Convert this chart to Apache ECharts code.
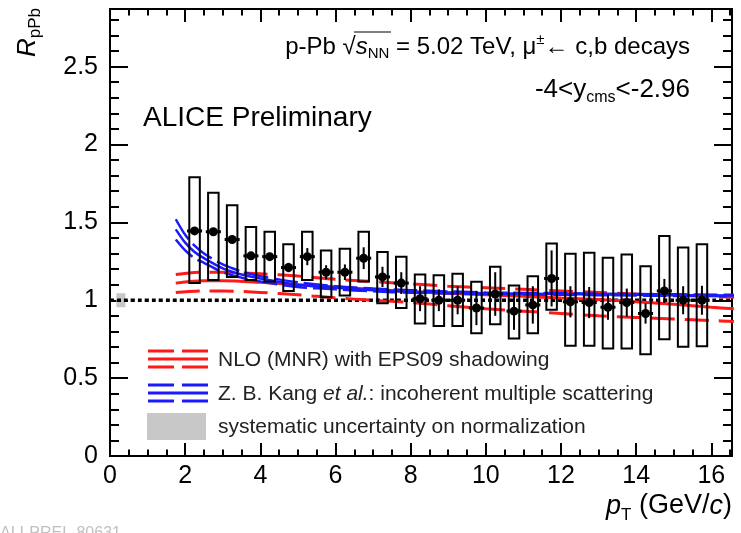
<!DOCTYPE html>
<html>
<head>
<meta charset="utf-8">
<script src="https://cdn.jsdelivr.net/npm/echarts@6/dist/echarts.min.js"></script>
<style>
html,body{margin:0;padding:0;background:#fff;}
#chart{width:741px;height:533px;}
</style>
</head>
<body>
<div id="chart"></div>
<script>
// ---- data ----
const ptX     = [2.25,2.75,3.25,3.75,4.25,4.75,5.25,5.75,6.25,6.75,7.25,7.75,8.25,8.75,9.25,9.75,10.25,10.75,11.25,11.75,12.25,12.75,13.25,13.75,14.25,14.75,15.25,15.75];
const rpPb    = [1.445,1.44,1.39,1.285,1.28,1.21,1.28,1.18,1.18,1.27,1.15,1.11,1.01,1.0,1.0,0.95,1.04,0.93,0.97,1.14,0.99,0.985,0.955,0.985,0.915,1.06,1.0,1.0];
const statErr = [0.02,0.02,0.02,0.025,0.025,0.03,0.055,0.045,0.05,0.07,0.065,0.07,0.08,0.07,0.09,0.11,0.14,0.12,0.12,0.18,0.1,0.1,0.08,0.09,0.065,0.077,0.09,0.093];
const sysHigh = [1.79,1.69,1.61,1.47,1.44,1.36,1.44,1.32,1.33,1.44,1.31,1.28,1.165,1.16,1.17,1.118,1.215,1.094,1.154,1.364,1.299,1.305,1.273,1.294,1.219,1.413,1.338,1.359];
const sysLow  = [1.11,1.13,1.15,1.13,1.12,1.06,1.13,1.02,1.03,1.12,0.98,0.95,0.85,0.835,0.835,0.788,0.846,0.755,0.788,0.939,0.708,0.708,0.69,0.69,0.654,0.75,0.701,0.705];

const nloX    = [1.75,2.5,3,4,5,6,7,8,9,10,11,12,13,14,15,16,16.6];
const nloUp   = [1.165,1.18,1.18,1.17,1.155,1.135,1.12,1.105,1.09,1.08,1.07,1.06,1.05,1.04,1.035,1.025,1.02];
const nloCen  = [1.11,1.125,1.125,1.115,1.10,1.085,1.07,1.055,1.045,1.035,1.025,1.015,1.005,0.99,0.975,0.955,0.945];
const nloLow  = [1.05,1.06,1.06,1.05,1.035,1.015,1.0,0.985,0.965,0.945,0.93,0.915,0.90,0.89,0.88,0.87,0.863];

const kangX   = [1.75,2,2.25,2.5,3,3.5,4,5,6,7,8,10,12,14,16.6];
const kangUp  = [1.52,1.42,1.35,1.30,1.23,1.185,1.155,1.115,1.09,1.075,1.065,1.05,1.045,1.04,1.035];
const kangMid = [1.455,1.37,1.31,1.27,1.205,1.165,1.14,1.10,1.08,1.065,1.055,1.045,1.04,1.035,1.03];
const kangLow = [1.39,1.32,1.27,1.24,1.18,1.145,1.12,1.085,1.07,1.057,1.048,1.04,1.035,1.03,1.025];

const normX   = [0.17, 0.41];
const normY   = [0.955, 1.045];
const unityX  = [0, 16.55];
const unityY  = [1, 1];

const xRange  = [0, 16.55];
const yRange  = [0, 2.87];
const xMajor  = 2, xMinor = 0.5;
const yMajor  = 0.5, yMinor = 0.1;

// ---- chart ----
const FONT = 'Liberation Sans';
const chart = echarts.init(document.getElementById('chart'), null, {renderer:'canvas'});

function xAx(pos, interval, len, labels){
  return {type:'value', position:pos, min:xRange[0], max:xRange[1], interval:interval,
    axisLine:{show:false, onZero:false}, splitLine:{show:false},
    axisTick:{show:true, inside:true, length:len, lineStyle:{color:'#000', width:2}},
    axisLabel: labels ? {show:true, fontFamily:FONT, fontSize:25, color:'#000', margin:8,
      formatter:v => (Math.abs(v/xMajor - Math.round(v/xMajor))<1e-6 ? String(Math.round(v)) : '')} : {show:false}};
}
function yAx(pos, interval, len, labels){
  return {type:'value', position:pos, min:yRange[0], max:yRange[1], interval:interval,
    axisLine:{show:false, onZero:false}, splitLine:{show:false},
    axisTick:{show:true, inside:true, length:len, lineStyle:{color:'#000', width:2}},
    axisLabel: labels ? {show:true, fontFamily:FONT, fontSize:25, color:'#000', margin:12,
      formatter:v => (Math.abs(v/yMajor - Math.round(v/yMajor))<1e-6 ? String(+v.toFixed(1)) : '')} : {show:false}};
}

const lineSeries = (xs, ys, color, width, dash, z) => ({
  type:'line', xAxisIndex:0, yAxisIndex:0, data: xs.map((x,i)=>[x, ys[i]]),
  smooth:0.3, showSymbol:false, symbol:'none', silent:true, z:z,
  lineStyle:{color:color, width:width, type:dash}
});

const boxHalf = 0.14, barHalf = 0.2;

const option = {
  animation:false,
  backgroundColor:'#fff',
  grid:{left:110, right:9, top:9, bottom:77, show:true, borderColor:'#000', borderWidth:2, backgroundColor:'transparent'},
  xAxis:[ xAx('bottom', xMajor, 13, true), xAx('bottom', xMinor, 6.5, false), xAx('top', xMajor, 13, false), xAx('top', xMinor, 6.5, false) ],
  yAxis:[ yAx('left', yMajor, 18, true), yAx('left', yMinor, 9, false), yAx('right', yMajor, 18, false), yAx('right', yMinor, 9, false) ],
  series:[
    { type:'custom', xAxisIndex:0, yAxisIndex:0, z:1, silent:true,
      data:[[normX[0], normY[0], normX[1], normY[1]]],
      renderItem:(p, api) => {
        const a = api.coord([api.value(0), api.value(3)]), b = api.coord([api.value(2), api.value(1)]);
        return {type:'rect', shape:{x:a[0], y:a[1], width:b[0]-a[0], height:b[1]-a[1]}, style:{fill:'#c8c8c8'}};
      }},
    lineSeries(unityX, unityY, '#000', 3.5, [4,3], 2),
    lineSeries(nloX, nloUp, '#ff1a1a', 3, [24,10], 3),
    lineSeries(nloX, nloCen, '#ff1a1a', 3, 'solid', 3),
    lineSeries(nloX, nloLow, '#ff1a1a', 3, [24,10], 3),
    lineSeries(kangX, kangUp, '#1a1aff', 2.5, [24,6], 4),
    lineSeries(kangX, kangMid, '#1a1aff', 2.5, 'solid', 4),
    lineSeries(kangX, kangLow, '#1a1aff', 2.5, [24,6], 4),
    { type:'custom', xAxisIndex:0, yAxisIndex:0, z:5, silent:true,
      data: ptX.map((x,i)=>[x, sysLow[i], sysHigh[i]]),
      renderItem:(p, api) => {
        const x = api.value(0);
        const a = api.coord([x - boxHalf, api.value(2)]), b = api.coord([x + boxHalf, api.value(1)]);
        return {type:'rect', shape:{x:a[0], y:a[1], width:b[0]-a[0], height:b[1]-a[1]}, style:{fill:'none', stroke:'#000', lineWidth:2}};
      }},
    { type:'custom', xAxisIndex:0, yAxisIndex:0, z:6, silent:true,
      data: ptX.map((x,i)=>[x, rpPb[i], statErr[i]]),
      renderItem:(p, api) => {
        const x = api.value(0), y = api.value(1), e = api.value(2);
        const c = api.coord([x, y]);
        const t = api.coord([x, y + e]), bt = api.coord([x, y - e]);
        const l = api.coord([x - barHalf, y]), r = api.coord([x + barHalf, y]);
        return {type:'group', children:[
          {type:'line', shape:{x1:t[0], y1:t[1], x2:bt[0], y2:bt[1]}, style:{stroke:'#000', lineWidth:2}},
          {type:'line', shape:{x1:l[0], y1:l[1], x2:r[0], y2:r[1]}, style:{stroke:'#000', lineWidth:3}},
          {type:'circle', shape:{cx:c[0], cy:c[1], r:4.5}, style:{fill:'#000'}}
        ]};
      }}
  ],
  graphic:[
    // header texts
    {type:'text', x:690, y:47, style:{text:'{n|p-Pb }{n|\u221A}{i|s}{sub|NN}{n| = 5.02 TeV, \u03BC}{sup|\u00B1}{n|\u2190 c,b decays}',
      align:'right', verticalAlign:'middle', fill:'#000',
      rich:{n:{fontFamily:FONT, fontSize:24, fill:'#000'}, i:{fontFamily:FONT, fontSize:24, fontStyle:'italic', fill:'#000'},
            sub:{fontFamily:FONT, fontSize:15, fill:'#000', padding:[14,0,0,0]}, sup:{fontFamily:FONT, fontSize:15, fill:'#000', padding:[0,0,14,0]}}}},
    {type:'line', shape:{x1:354, y1:32, x2:391, y2:32}, style:{stroke:'#000', lineWidth:1.2}},
    {type:'text', x:690, y:90, style:{text:'{n|-4<y}{sub|cms}{n|<-2.96}', align:'right', verticalAlign:'middle', fill:'#000',
      rich:{n:{fontFamily:FONT, fontSize:26, fill:'#000'}, sub:{fontFamily:FONT, fontSize:16, fill:'#000', padding:[16,0,0,0]}}}},
    {type:'text', x:143, y:118, style:{text:'ALICE Preliminary', align:'left', verticalAlign:'middle', fill:'#000', font:'28px '+FONT}},
    // axis titles
    {type:'text', x:28, y:8, rotation:Math.PI/2, style:{text:'{i|R}{sub|pPb}', align:'right', verticalAlign:'middle', fill:'#000',
      rich:{i:{fontFamily:FONT, fontSize:26, fontStyle:'italic', fill:'#000'}, sub:{fontFamily:FONT, fontSize:17, fill:'#000', padding:[14,0,0,0]}}}},
    {type:'text', x:732, y:506, style:{text:'{i|p}{sub|T}{n| (GeV/}{i|c}{n|)}', align:'right', verticalAlign:'middle', fill:'#000',
      rich:{i:{fontFamily:FONT, fontSize:27, fontStyle:'italic', fill:'#000'}, n:{fontFamily:FONT, fontSize:27, fill:'#000'},
            sub:{fontFamily:FONT, fontSize:17, fill:'#000', padding:[18,0,0,0]}}}},
    // legend
    {type:'line', shape:{x1:148,y1:351,x2:208,y2:351}, style:{stroke:'#ff1a1a', lineWidth:3, lineDash:[26,8]}},
    {type:'line', shape:{x1:148,y1:359,x2:208,y2:359}, style:{stroke:'#ff1a1a', lineWidth:3}},
    {type:'line', shape:{x1:148,y1:367,x2:208,y2:367}, style:{stroke:'#ff1a1a', lineWidth:3, lineDash:[26,8]}},
    {type:'text', x:218, y:360, style:{text:'NLO (MNR) with EPS09 shadowing', align:'left', verticalAlign:'middle', fill:'#222', font:'21px '+FONT}},
    {type:'line', shape:{x1:148,y1:385,x2:208,y2:385}, style:{stroke:'#1a1aff', lineWidth:3, lineDash:[26,8]}},
    {type:'line', shape:{x1:148,y1:393,x2:208,y2:393}, style:{stroke:'#1a1aff', lineWidth:3}},
    {type:'line', shape:{x1:148,y1:401,x2:208,y2:401}, style:{stroke:'#1a1aff', lineWidth:3, lineDash:[26,8]}},
    {type:'text', x:218, y:394, style:{text:'{n|Z. B. Kang }{i|et al.}{n|: incoherent multiple scattering}', align:'left', verticalAlign:'middle', fill:'#222',
      rich:{n:{fontFamily:FONT, fontSize:21, fill:'#222'}, i:{fontFamily:FONT, fontSize:21, fontStyle:'italic', fill:'#222'}}}},
    {type:'rect', shape:{x:147, y:413, width:59, height:27}, style:{fill:'#c8c8c8'}},
    {type:'text', x:218, y:427, style:{text:'systematic uncertainty on normalization', align:'left', verticalAlign:'middle', fill:'#222', font:'21px '+FONT}},
    // faint figure id, cut at bottom
    {type:'text', x:0, y:526, style:{text:'ALI-PREL-80631', align:'left', verticalAlign:'top', fill:'#c0c0c0', font:'16px '+FONT}}
  ]
};
chart.setOption(option);
</script>
</body>
</html>
